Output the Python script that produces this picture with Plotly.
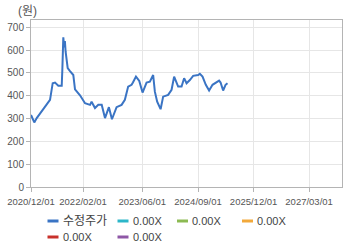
import plotly.graph_objects as go

dates = ["2020-12-01", "2020-12-28", "2021-01-17", "2021-02-27", "2021-04-09", "2021-05-06",
         "2021-05-28", "2021-06-16", "2021-07-13", "2021-08-10", "2021-08-15", "2021-08-23",
         "2021-08-30", "2021-09-05", "2021-09-11", "2021-09-28", "2021-10-17", "2021-11-13",
         "2021-11-27", "2022-01-07", "2022-02-17", "2022-03-30", "2022-04-12", "2022-05-10",
         "2022-06-06", "2022-07-04", "2022-07-31", "2022-09-01", "2022-09-26", "2022-11-03",
         "2022-12-14", "2023-01-10", "2023-02-06", "2023-03-06", "2023-03-17", "2023-04-11",
         "2023-05-08", "2023-06-04", "2023-07-07", "2023-08-03", "2023-08-30", "2023-09-13",
         "2023-10-02", "2023-10-30", "2023-11-20", "2023-12-31", "2024-01-28", "2024-02-18",
         "2024-03-22", "2024-04-19", "2024-05-10", "2024-05-30", "2024-06-26", "2024-07-23",
         "2024-09-02", "2024-09-16", "2024-10-08", "2024-11-04", "2024-12-01", "2024-12-29",
         "2025-02-21", "2025-03-05", "2025-03-26", "2025-04-15", "2025-05-01"]
prices = [316, 283, 302, 331, 360, 382,
          455, 458, 444, 444, 513, 656,
          612, 640, 593, 521, 508, 491,
          428, 402, 367, 360, 374, 346,
          360, 360, 302, 350, 297, 350,
          360, 382, 440, 448, 458, 484,
          465, 414, 458, 462, 491, 418,
          374, 341, 396, 404, 426, 484,
          440, 440, 477, 455, 469, 487,
          491, 496, 484, 448, 423, 448,
          466, 458, 423, 448, 455]

tick_vals = ["2020-12-01", "2022-02-01", "2023-06-01", "2024-09-01", "2025-12-01", "2027-03-01"]
tick_text = ["2020/12/01", "2022/02/01", "2023/06/01", "2024/09/01", "2025/12/01", "2027/03/01"]
y_ticks = [0, 100, 200, 300, 400, 500, 600, 700]

series_names = ["수정주가", "0.00X", "0.00X", "0.00X", "0.00X", "0.00X"]
series_colors = ["#3a74c4", "#2cb6c9", "#8cba52", "#f2a93b", "#c8312b", "#8e57a6"]

FONT = "Liberation Sans, Arial, Noto Sans CJK KR, sans-serif"

fig = go.Figure()
fig.add_trace(go.Scatter(x=dates, y=prices, mode="lines",
                         line=dict(color=series_colors[0], width=2),
                         name=series_names[0], showlegend=False))

# legend (manual, 4 entries per row)
L, R, T, B = 31, 18, 20, 61
W, H = 360, 248
pw, ph = W - L - R, H - T - B
entry_x = [47.5, 117.5, 177, 242]
row_y = [221, 237]
shapes = []
annotations = []
for i, (nm, col) in enumerate(zip(series_names, series_colors)):
    row, colidx = divmod(i, 4)
    x0 = entry_x[colidx]
    yp = row_y[row]
    py = (H - B - yp) / ph
    shapes.append(dict(type="line", xref="paper", yref="paper",
                       x0=(x0 - L) / pw, x1=(x0 + 11 - L) / pw, y0=py, y1=py,
                       line=dict(color=col, width=3)))
    annotations.append(dict(text=nm, xref="paper", yref="paper",
                            x=(x0 + 13 - L) / pw, y=py, xanchor="left", yanchor="middle",
                            showarrow=False,
                            font=dict(size=12 if i == 0 else 11, color="#444", family=FONT)))

annotations.append(dict(text="(원)", xref="paper", yref="paper",
                        x=(16 - L) / pw, y=(H - B - 11) / ph, xanchor="left", yanchor="middle",
                        showarrow=False, font=dict(size=12, color="#555", family=FONT)))

fig.update_layout(
    width=W, height=H,
    margin=dict(l=L, r=R, t=T, b=B, autoexpand=False),
    paper_bgcolor="white", plot_bgcolor="white",
    showlegend=False,
    shapes=shapes, annotations=annotations,
    font=dict(family=FONT, size=10, color="#555"),
)
fig.update_xaxes(type="date", range=["2020-12-01", "2027-11-26"],
                 tickvals=tick_vals, ticktext=tick_text, tickangle=0,
                 showgrid=True, gridcolor="#e6e6e6", gridwidth=1,
                 showline=True, linecolor="#b4b4b4", linewidth=1, mirror=True,
                 ticks="outside", ticklen=4, tickcolor="#b4b4b4", ticklabelstandoff=2,
                 tickfont=dict(size=9.5, color="#555", family=FONT), zeroline=False)
fig.update_yaxes(range=[0, 732], tickvals=y_ticks,
                 showgrid=True, gridcolor="#e6e6e6", gridwidth=1,
                 showline=True, linecolor="#b4b4b4", linewidth=1, mirror=True,
                 ticks="outside", ticklen=4, tickcolor="#b4b4b4",
                 tickfont=dict(size=10, color="#555", family=FONT), zeroline=False)

fig.write_html("out.html")
